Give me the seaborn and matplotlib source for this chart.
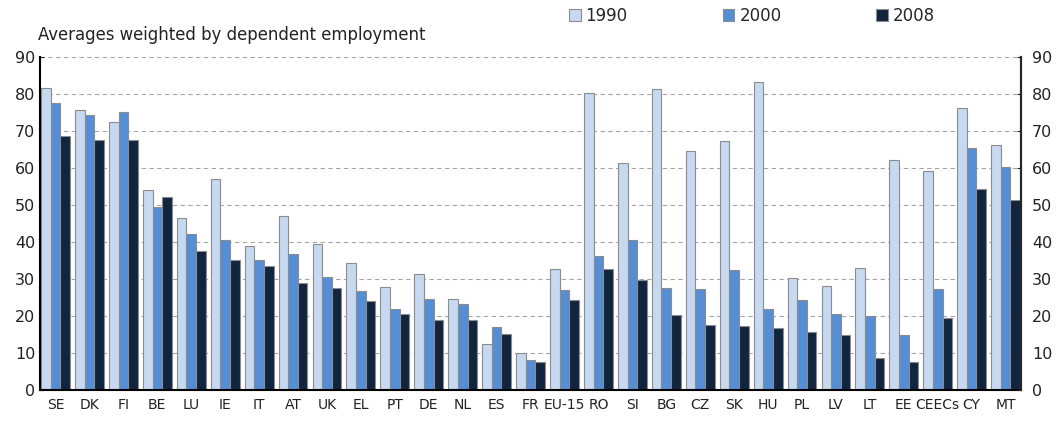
import pandas as pd
import numpy as np
import seaborn as sns
import matplotlib.pyplot as plt
from matplotlib.patches import Patch

countries = ["SE", "DK", "FI", "BE", "LU", "IE", "IT", "AT", "UK", "EL", "PT", "DE", "NL", "ES", "FR",
             "EU-15", "RO", "SI", "BG", "CZ", "SK", "HU", "PL", "LV", "LT", "EE", "CEECs", "CY", "MT"]
v1990 = [81.5, 75.5, 72.5, 54.0, 46.5, 57.0, 39.0, 47.0, 39.5, 34.3, 27.8, 31.2, 24.6, 12.5, 10.0,
         32.7, 80.3, 61.2, 81.2, 64.5, 67.3, 83.2, 30.3, 28.2, 32.8, 62.0, 59.1, 76.1, 66.3]
v2000 = [77.5, 74.3, 75.0, 49.5, 42.0, 40.5, 35.0, 36.7, 30.5, 26.7, 21.8, 24.6, 23.1, 17.0, 8.0,
         26.9, 36.2, 40.4, 27.5, 27.2, 32.5, 21.8, 24.2, 20.5, 20.0, 14.8, 27.3, 65.3, 60.2]
v2008 = [68.5, 67.5, 67.5, 52.0, 37.5, 35.0, 33.5, 29.0, 27.5, 24.0, 20.5, 19.0, 19.0, 15.0, 7.6,
         24.2, 32.7, 29.7, 20.2, 17.5, 17.2, 16.8, 15.6, 14.8, 8.6, 7.4, 19.3, 54.3, 51.2]
years = ["1990", "2000", "2008"]
colors = ["#c6d9f1", "#558ed5", "#12253f"]

df = pd.DataFrame({"country": countries, "1990": v1990, "2000": v2000, "2008": v2008})
df = df.melt(id_vars="country", var_name="year", value_name="value")

sns.set_style("white")
plt.rcParams["font.family"] = ["DejaVu Sans"]

fig = plt.figure(figsize=(10.59, 4.21), dpi=100)
ax = fig.add_axes([0.038, 0.074, 0.926, 0.791])
sns.barplot(data=df, x="country", y="value", hue="year", palette=colors, hue_order=years,
            width=0.85, gap=0, saturation=1, edgecolor="#8c8c8c", linewidth=0.8, ax=ax, legend=False)

ax.set_ylim(0, 90)
ax.set_xlim(-0.45, len(countries) - 0.55)
ax.set_yticks(range(0, 91, 10))
ax.yaxis.grid(True, linestyle=(0, (4, 3)), color="#a6a6a6", linewidth=0.8)
ax.set_axisbelow(True)
ax.set_xlabel("")
ax.set_ylabel("")
ax.tick_params(axis="x", length=0, labelsize=10, pad=6, colors="#222222")
ax.tick_params(axis="y", length=3, labelsize=11.5, colors="#222222", direction="in")
ax.spines["top"].set_visible(False)
for s in ["left", "right", "bottom"]:
    ax.spines[s].set_color("black")
    ax.spines[s].set_linewidth(1.5)

ax2 = ax.twinx()
ax2.set_ylim(0, 90)
ax2.set_yticks(range(0, 91, 10))
ax2.tick_params(axis="y", length=3, labelsize=11.5, colors="#222222", direction="in", pad=8)
ax2.spines["top"].set_visible(False)
ax2.spines["right"].set_linewidth(1.5)
ax2.spines["left"].set_visible(False)
ax2.spines["bottom"].set_visible(False)

fig.text(0.036, 0.905, "Averages weighted by dependent employment", fontsize=11.9, color="#222222")

handles = [Patch(facecolor=c, edgecolor="#8c8c8c", linewidth=0.8) for c in colors]
fig.legend(handles, years, loc="upper left", bbox_to_anchor=(0.523, 1.02), ncol=3, frameon=False,
           handlelength=0.7, handleheight=0.7, handletextpad=0.3, columnspacing=5.7, fontsize=12)

fig.savefig("out.png", dpi=100)
